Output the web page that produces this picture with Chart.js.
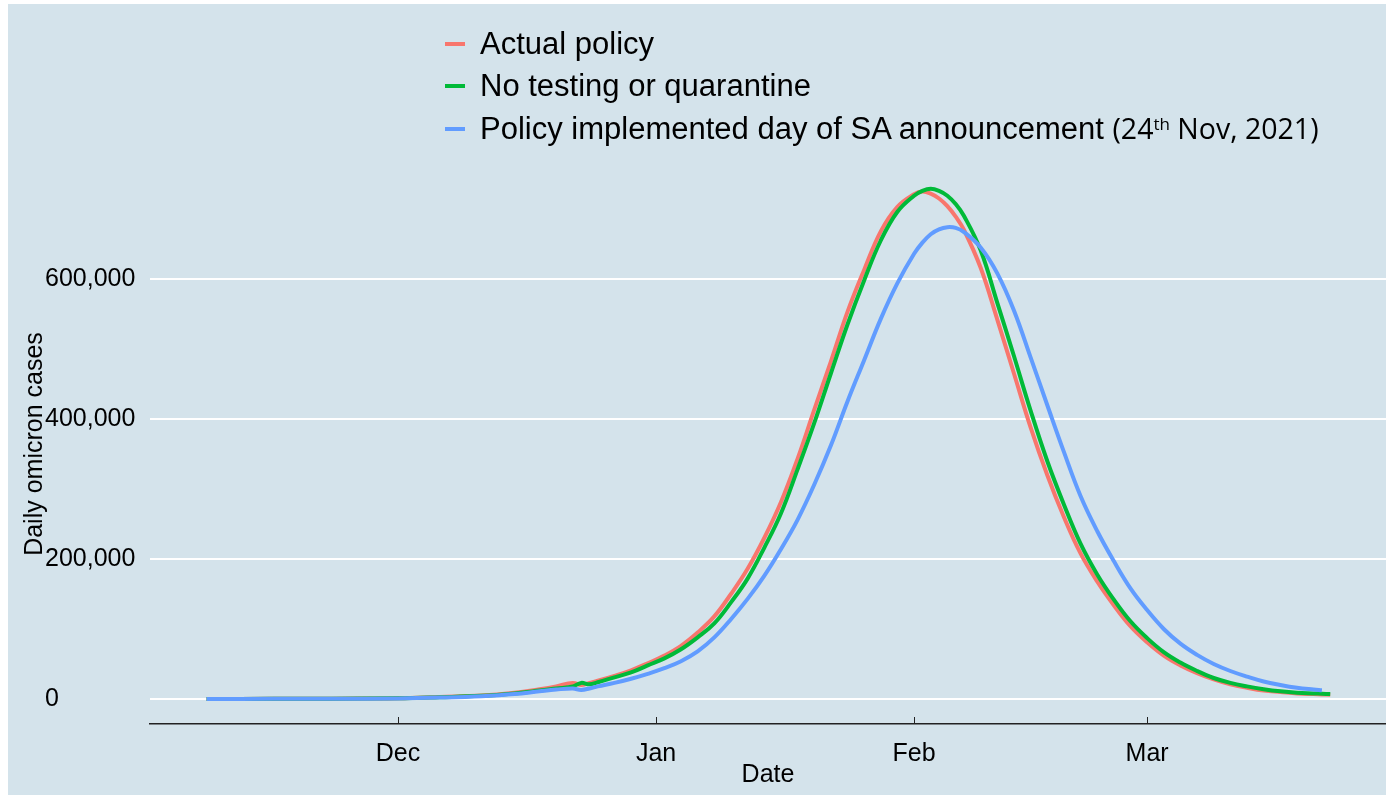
<!DOCTYPE html>
<html>
<head>
<meta charset="utf-8">
<title>Daily omicron cases</title>
<script src="https://cdn.jsdelivr.net/npm/chart.js@4.4.1/dist/chart.umd.min.js"></script>
<style>
  html, body { margin: 0; padding: 0; background: #fff; width: 1386px; height: 799px; overflow: hidden; }
  #panel { position: absolute; left: 8px; top: 4px; width: 1378px; height: 791px; background: #d4e3eb; }
  #wrap { position: absolute; left: 0; top: 0; width: 1378px; height: 791px; }
  .legend { position: absolute; left: 437px; top: 0; font-family: 'Liberation Sans', Arial, sans-serif; font-size: 31px; color: #000; }
  .row { position: absolute; left: 0; height: 40px; line-height: 40px; white-space: nowrap; }
  .key { display: inline-block; width: 20px; height: 4px; vertical-align: middle; margin-right: 15px; position: relative; top: -2px; }
  .small { font-family: 'Open Sans', sans-serif; font-size: 28.5px; }
  .small sup { font-size: 17px; position: relative; top: -4px; vertical-align: top; line-height: 40px; }
</style>
</head>
<body>
<div id="panel">
  <div id="wrap"><canvas id="chart"></canvas></div>
  <div class="legend">
    <div class="row" style="top:20px"><span class="key" style="background:#F8766D"></span>Actual policy</div>
    <div class="row" style="top:62px"><span class="key" style="background:#00BA38"></span>No testing or quarantine</div>
    <div class="row" style="top:104px"><span class="key" style="background:#619CFF"></span>Policy implemented day of SA announcement <span class="small">(24<sup>th</sup> Nov, 2021)</span></div>
  </div>
</div>
<script>
// days counted from 1 Dec 2021 (negative = November)
const days = [-23, -15, -8, 0, 5, 10, 14, 17, 19, 21,
  22, 23, 24, 26, 28, 30, 32, 34, 36, 38,
  40, 42, 44, 46, 48, 50, 52, 54, 56, 58,
  60, 62, 63, 64, 65, 66, 67, 68, 70, 72,
  74, 76, 78, 80, 82, 84, 86, 88, 90, 92,
  94, 96, 98, 100, 102, 104, 106, 108, 110, 111,
  112]

// daily cases, thousands
const actualPolicy = [0, 0.2, 0.5, 1, 3, 5, 9, 14, 18, 23,
  20, 23, 26, 33, 41, 51, 62, 76, 95, 118,
  150, 186, 230, 281, 343, 413, 482, 553, 613, 668,
  703, 721, 725, 722, 715, 704, 689, 670, 616, 542,
  465, 388, 320, 260, 208, 168, 134, 104, 81, 62,
  48, 37, 28, 21, 16, 12, 10, 8, 7, 6.5,
  6]

const noTesting = [0, 0.2, 0.5, 1, 2.5, 4.5, 8, 12, 15, 18,
  23, 21, 24, 31, 38, 48, 58, 71, 88, 108,
  138, 172, 216, 265, 328, 394, 465, 535, 598, 655,
  696, 719, 726, 729, 726, 719, 707, 690, 641, 566,
  490, 412, 340, 278, 222, 178, 142, 111, 87, 67,
  52, 40, 30, 23, 18, 14, 11, 9, 8, 7.5,
  7]

const saAnnouncement = [0, 0.2, 0.4, 0.8, 2, 4, 7, 11, 13.5, 15,
  13, 15, 18, 23, 29, 36, 44, 54, 68, 88,
  114, 143, 176, 214, 256, 306, 362, 425, 484, 543,
  594, 636, 652, 664, 671, 674, 673, 667, 645, 608,
  555, 488, 420, 353, 290, 240, 197, 158, 127, 100,
  79, 63, 50, 40, 32, 25, 20, 16, 13.5, 12.5,
  null]

const monthLabels = ['Dec', 'Jan', 'Feb', 'Mar']
const monthDays = [0, 31, 62, 90]
const yTicks = [0, 200000, 400000, 600000]

const toPoints = arr => days.map((d, i) => ({x: d, y: arr[i] == null ? null : arr[i] * 1000}))

// short tick marks pointing up from the x axis line
const innerTicks = {
  id: 'innerTicks',
  afterDraw(chart) {
    const {ctx, chartArea, scales: {x}} = chart
    ctx.save()
    ctx.strokeStyle = '#222'
    ctx.lineWidth = 1
    monthDays.forEach(d => {
      const px = Math.round(x.getPixelForValue(d)) + 0.5
      ctx.beginPath()
      ctx.moveTo(px, chartArea.bottom)
      ctx.lineTo(px, chartArea.bottom - 7)
      ctx.stroke()
    })
    ctx.restore()
  }
}

Chart.defaults.font.family = "'Liberation Sans', Arial, sans-serif"
Chart.defaults.color = '#000'

const line = (data, color, order) => ({
  data: toPoints(data),
  borderColor: color,
  backgroundColor: color,
  borderWidth: 4,
  pointRadius: 0,
  fill: false,
  tension: 0.4,
  spanGaps: false,
  order: order
})

new Chart(document.getElementById('chart'), {
  type: 'line',
  data: {
    datasets: [
      line(saAnnouncement, '#619CFF', 1),
      line(noTesting, '#00BA38', 2),
      line(actualPolicy, '#F8766D', 3)
    ]
  },
  options: {
    responsive: true,
    maintainAspectRatio: false,
    animation: false,
    layout: {padding: {left: 37, top: 160, right: 0, bottom: 8}},
    plugins: {legend: {display: false}, tooltip: {enabled: false}},
    scales: {
      x: {
        type: 'linear',
        min: -29.8,
        max: 118.7,
        afterBuildTicks: s => { s.ticks = monthDays.map(v => ({value: v})) },
        afterFit: s => { s.height = 63 },
        ticks: {
          padding: 15,
          font: {size: 25},
          maxRotation: 0,
          callback: (v) => monthLabels[monthDays.indexOf(v)]
        },
        grid: {display: true, drawOnChartArea: false, drawTicks: false},
        border: {display: true, color: '#222', width: 1.5},
        title: {display: true, text: 'Date', font: {size: 25}, padding: {top: 0, bottom: -3}}
      },
      y: {
        min: -35714,
        max: 764286,
        afterBuildTicks: s => { s.ticks = yTicks.map(v => ({value: v})) },
        afterFit: s => { s.width = 105 },
        ticks: {
          crossAlign: 'far',
          font: {size: 25},
          callback: v => v.toLocaleString('en-US')
        },
        grid: {color: '#ffffff', lineWidth: 2, drawTicks: false},
        border: {display: false},
        title: {display: true, text: 'Daily omicron cases', font: {size: 25}, padding: {top: -25, bottom: 0}}
      }
    }
  },
  plugins: [innerTicks]
})
</script>
</body>
</html>
